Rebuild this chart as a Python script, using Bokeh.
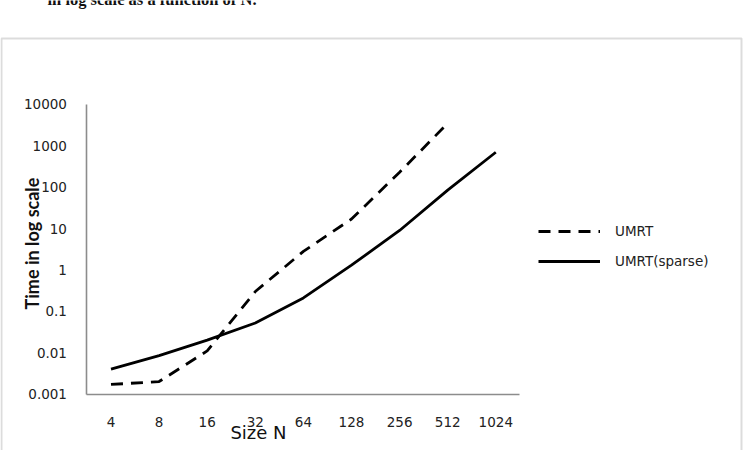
import math
from bokeh.plotting import figure
from bokeh.models import (Range1d, FixedTicker, Legend, LegendItem,
                          Label, BoxAnnotation)
from bokeh.embed import file_html
from bokeh.resources import INLINE

# ---- data ----
sizes = [4, 8, 16, 32, 64, 128, 256, 512, 1024]
size_labels = ["4", "8", "16", "32", "64", "128", "256", "512", "1024"]
umrt = [0.0017, 0.002, 0.011, 0.3, 2.8, 17, 230, 3500]
umrt_sparse = [0.004, 0.0085, 0.02, 0.052, 0.21, 1.3, 9, 85, 700]
y_ticks = [0.001, 0.01, 0.1, 1, 10, 100, 1000, 10000]
y_tick_labels = ["0.001", "0.01", "0.1", "1", "10", "100", "1000", "10000"]

W, H = 747, 450
# pixel layout of the plotting area inside the canvas
x_first_px, x_step_px = 110.5, 48.1      # px of first category, px per doubling
y_low_px, y_dec_px = 393.5, 41.36        # px of 0.001, px per decade

x_start = sizes[0] * 2 ** (-x_first_px / x_step_px)
x_end = sizes[0] * 2 ** ((W - x_first_px) / x_step_px)
y_start = y_ticks[0] * 10 ** (-(H - y_low_px) / y_dec_px)
y_end = y_ticks[0] * 10 ** (y_low_px / y_dec_px)

p = figure(width=W, height=H, x_axis_type="log", y_axis_type="log",
           x_range=Range1d(x_start, x_end), y_range=Range1d(y_start, y_end),
           output_backend="svg", toolbar_location=None,
           min_border_left=0, min_border_right=0, min_border_top=0,
           min_border_bottom=0)
p.outline_line_color = None
p.grid.visible = False
p.background_fill_color = "white"

r1 = p.line(x=sizes[:len(umrt)], y=umrt, line_color="black", line_width=2.8,
            line_dash="12 8")
r2 = p.line(x=sizes, y=umrt_sparse, line_color="black", line_width=2.8)

x_lo = sizes[0] / math.sqrt(2)
x_hi = sizes[-1] * math.sqrt(2)

xa = p.xaxis[0]
ya = p.yaxis[0]
xa.fixed_location = y_ticks[0]
xa.bounds = (x_lo, x_hi)
ya.fixed_location = x_lo
ya.bounds = (y_ticks[0], y_ticks[-1])
xa.ticker = FixedTicker(ticks=sizes)
xa.major_label_overrides = dict(zip(sizes, size_labels))
ya.ticker = FixedTicker(ticks=y_ticks)
ya.major_label_overrides = dict(zip(y_ticks, y_tick_labels))

for ax in (xa, ya):
    ax.axis_line_color = "#8c8c8c"
    ax.axis_line_width = 1.6
    ax.major_tick_line_color = None
    ax.minor_tick_line_color = None
    ax.major_tick_out = 0
    ax.major_tick_in = 0
    ax.minor_tick_out = 0
    ax.minor_tick_in = 0
    ax.major_label_text_font = "DejaVu Sans"
    ax.major_label_text_font_size = "13.5px"
    ax.major_label_text_color = "#222222"

xa.major_label_standoff = 23
ya.major_label_standoff = 20

legend = Legend(items=[LegendItem(label="UMRT", renderers=[r1]),
                       LegendItem(label="UMRT(sparse)", renderers=[r2])],
                location=(538, H - 271), glyph_width=62, glyph_height=20,
                label_height=20, spacing=10, label_standoff=15, padding=0,
                margin=0, border_line_color=None, background_fill_alpha=0,
                label_text_font="DejaVu Sans", label_text_font_size="13.5px",
                label_text_color="#222222")
p.add_layout(legend)

p.add_layout(BoxAnnotation(left=1, right=741, top=H - 38, bottom=-10,
                           left_units="screen", right_units="screen",
                           top_units="screen", bottom_units="screen",
                           fill_alpha=0, line_color="#8c8c8c", line_width=2))

p.add_layout(Label(x=31, y=H - 243, x_units="screen", y_units="screen",
                   text="Time in log scale", angle=math.pi / 2,
                   text_align="center", text_baseline="middle",
                   text_font="Lato", text_font_size="18px",
                   text_font_style="bold", text_color="#111111"))
p.add_layout(Label(x=258, y=H - 432, x_units="screen", y_units="screen",
                   text="Size N", text_align="center", text_baseline="middle",
                   text_font="DejaVu Sans", text_font_size="18px",
                   text_color="#111111"))
p.add_layout(Label(x=47, y=H + 1, x_units="screen", y_units="screen",
                   text="in log scale as a function of N.",
                   text_align="left", text_baseline="alphabetic",
                   text_font="Liberation Serif", text_font_size="16.5px",
                   text_font_style="bold", text_color="#111111"))

open("out.html", "w").write(file_html(p, INLINE))
